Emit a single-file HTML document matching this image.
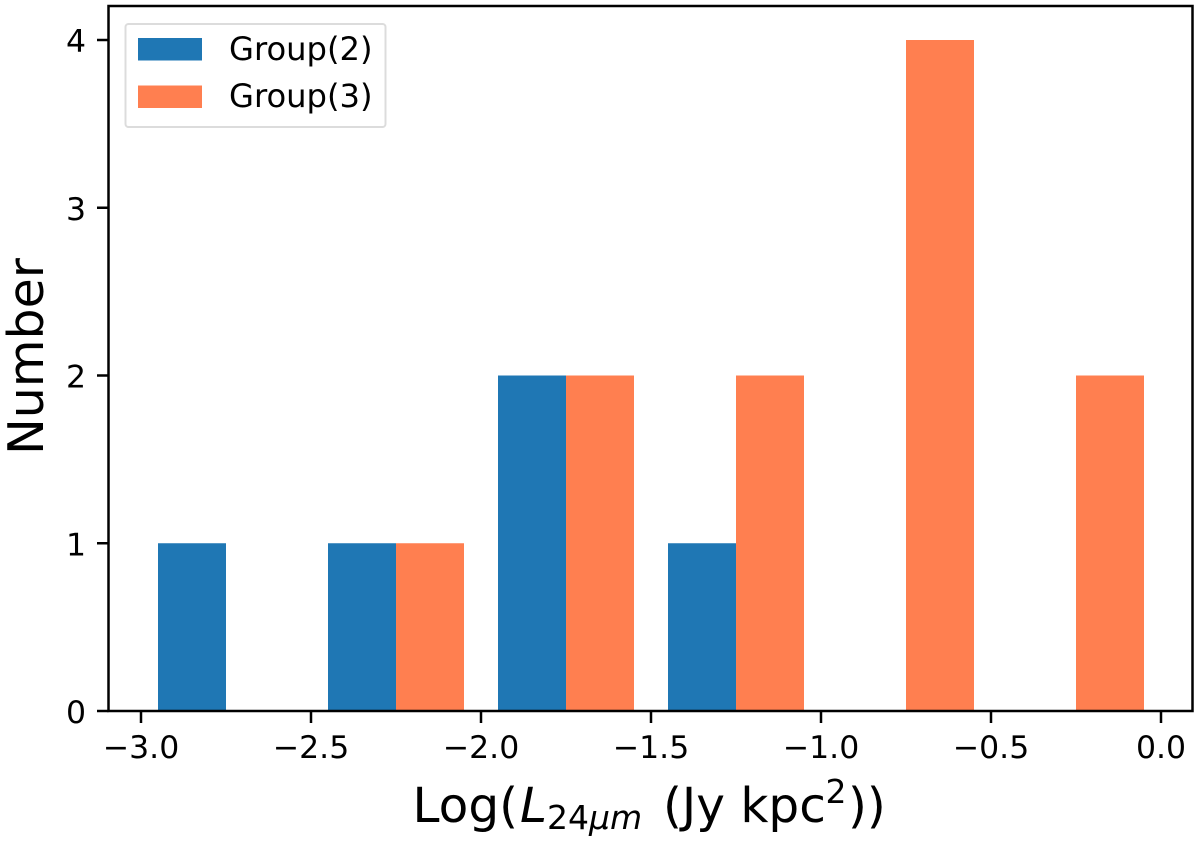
<!DOCTYPE html>
<html lang="en">
<head>
<meta charset="utf-8">
<title>Histogram of Log L24um by group</title>
<style>
html,body{margin:0;padding:0;background:#fff;width:1200px;height:843px;overflow:hidden}
svg{display:block}
text{font-family:"DejaVu Sans",sans-serif;fill:#000}
</style>
</head>
<body>
<svg id="chart" width="1200" height="843" viewBox="0 0 1200 843" xmlns="http://www.w3.org/2000/svg">
  <rect width="1200" height="843" fill="#fff"/>
  <g id="bars"></g>
  <g id="xticks"></g>
  <g id="yticks"></g>
  <rect x="108.5" y="6" width="1084" height="705" fill="none" stroke="#000" stroke-width="2.5"/>
  <text x="412.5" y="822" font-size="48.5">Log(<tspan x="520" font-style="italic">L</tspan><tspan x="547" font-size="33" dy="7">24</tspan><tspan font-size="33" font-style="italic">μm</tspan><tspan x="663" dy="-7">(Jy kpc</tspan><tspan x="825.5" font-size="33" dy="-19">2</tspan><tspan x="848" dy="19">))</tspan></text>
  <text transform="translate(43,356.5) rotate(-90)" text-anchor="middle" font-size="49">Number</text>
  <g>
    <rect x="125.5" y="24" width="260" height="103" rx="3" ry="3" fill="#fff" fill-opacity="0.8" stroke="#dcdcdc" stroke-width="2"/>
    <rect x="138" y="38" width="64" height="22.5" fill="#1f77b4"/>
    <text x="229" y="60" font-size="32.2">Group(2)</text>
    <rect x="138" y="85.5" width="64" height="22.5" fill="#ff7f50"/>
    <text x="229" y="107" font-size="32.2">Group(3)</text>
  </g>
</svg>
<script>
const binStarts = [-3.0, -2.5, -2.0, -1.5, -1.0, -0.5];
const group2Counts = [1, 1, 2, 1, 0, 0];
const group3Counts = [0, 1, 2, 2, 4, 2];
const xTickValues = [-3.0, -2.5, -2.0, -1.5, -1.0, -0.5, 0.0];
const yTickValues = [0, 1, 2, 3, 4];

const NS = 'http://www.w3.org/2000/svg';
const xScale = v => 1161 + v * 340;
const yScale = v => 711 - v * 167.75;
const barsLayer = document.getElementById('bars');
const xLayer = document.getElementById('xticks');
const yLayer = document.getElementById('yticks');

function drawSeries(counts, offset, color, seriesName) {
  counts.forEach((count, i) => {
    if (count === 0) return;
    const rect = document.createElementNS(NS, 'rect');
    
    
    const x0 = xScale(binStarts[i] + offset);
    const x1 = xScale(binStarts[i] + offset + 0.2);
    rect.setAttribute('x', x0);
    rect.setAttribute('y', yScale(count));
    rect.setAttribute('width', x1 - x0);
    rect.setAttribute('height', yScale(0) - yScale(count));
    rect.setAttribute('fill', color);
    barsLayer.appendChild(rect);
  });
}
drawSeries(group2Counts, 0.05, '#1f77b4', 'group-2');
drawSeries(group3Counts, 0.25, '#ff7f50', 'group-3');

xTickValues.forEach(v => {
  const tick = document.createElementNS(NS, 'line');
  
  
  tick.setAttribute('x1', xScale(v));
  tick.setAttribute('x2', xScale(v));
  tick.setAttribute('y1', 711);
  tick.setAttribute('y2', 723);
  tick.setAttribute('stroke', '#000');
  tick.setAttribute('stroke-width', 2.5);
  xLayer.appendChild(tick);
  const label = document.createElementNS(NS, 'text');
  
  
  label.setAttribute('x', xScale(v));
  label.setAttribute('y', 758);
  label.setAttribute('text-anchor', 'middle');
  label.setAttribute('font-size', 31.5);
  label.textContent = (v < 0 ? '\u2212' : '') + Math.abs(v).toFixed(1);
  xLayer.appendChild(label);
});

yTickValues.forEach(v => {
  const tick = document.createElementNS(NS, 'line');
  
  
  tick.setAttribute('x1', 97);
  tick.setAttribute('x2', 108.5);
  tick.setAttribute('y1', yScale(v));
  tick.setAttribute('y2', yScale(v));
  tick.setAttribute('stroke', '#000');
  tick.setAttribute('stroke-width', 2.5);
  yLayer.appendChild(tick);
  const label = document.createElementNS(NS, 'text');
  
  
  label.setAttribute('x', 86);
  label.setAttribute('y', yScale(v) + 12);
  label.setAttribute('text-anchor', 'end');
  label.setAttribute('font-size', 31.5);
  label.textContent = String(v);
  yLayer.appendChild(label);
});
</script>
</body>
</html>
